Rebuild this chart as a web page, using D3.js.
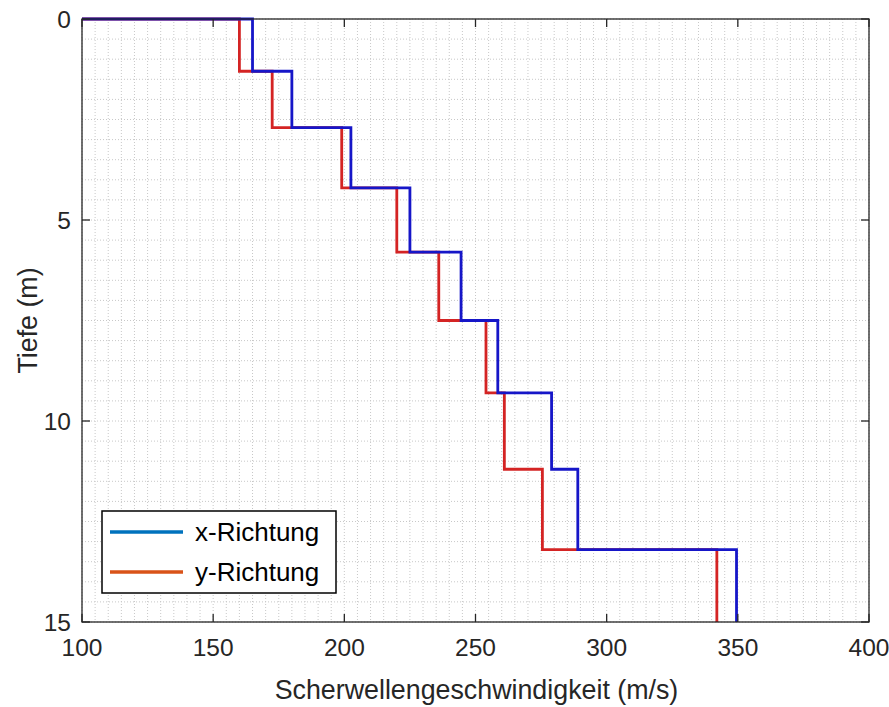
<!DOCTYPE html>
<html>
<head>
<meta charset="utf-8">
<script src="https://cdn.jsdelivr.net/npm/d3@7"></script>
<style>
  html, body { margin: 0; padding: 0; background: #ffffff; }
  svg { display: block; font-family: "Liberation Sans", Arial, sans-serif; }
</style>
</head>
<body>
<svg id="chart" width="889" height="707"></svg>
<script>
// Layer tops (m) of the shear-wave velocity profile
const layerTops = [0, 1.3, 2.7, 4.2, 5.8, 7.5, 9.3, 11.2, 13.2];
const profileBottom = 15;
// Shear-wave velocity per layer (m/s)
const vsX = [165, 180, 202.5, 225, 244.5, 258.5, 279, 289, 349.5];
const vsY = [160, 172.5, 199, 220, 236, 254, 261, 275.5, 342];
const seriesNames = ["x-Richtung", "y-Richtung"];
const xTicks = [100, 150, 200, 250, 300, 350, 400];
const yTicks = [0, 5, 10, 15];

const svg = d3.select("#chart");

const x = d3.scaleLinear().domain([100, 400]).range([82, 869]);
const y = d3.scaleLinear().domain([0, 15]).range([19, 622]);

const axisColor = "#262626";
const tickFont = 24.5, labelFont = 26.8, legendFont = 26;

// minor grid (dotted)
const grid = svg.append("g");
d3.range(100, 400.001, 5).forEach(v => {
  grid.append("line")
    .attr("x1", x(v)).attr("x2", x(v)).attr("y1", y(0)).attr("y2", y(15))
    .attr("stroke", "#c8c8c8").attr("stroke-width", 1).attr("stroke-dasharray", "1,2");
});
d3.range(0, 15.001, 0.5).forEach(v => {
  grid.append("line")
    .attr("x1", x(100)).attr("x2", x(400)).attr("y1", y(v)).attr("y2", y(v))
    .attr("stroke", "#c8c8c8").attr("stroke-width", 1).attr("stroke-dasharray", "1,2");
});

// step profile: horizontal at each layer top, vertical through the layer
function profilePath(vs) {
  let p = `M${x(x.domain()[0])},${y(layerTops[0])}`;
  vs.forEach((v, i) => {
    const bottom = i + 1 < layerTops.length ? layerTops[i + 1] : profileBottom;
    p += `H${x(v)}V${y(bottom)}`;
  });
  return p;
}

svg.append("defs").append("clipPath").attr("id", "plotclip")
  .append("rect").attr("x", x(100)).attr("y", y(0) - 2)
  .attr("width", x(400) - x(100)).attr("height", y(15) - y(0) + 2);

const lines = svg.append("g").attr("clip-path", "url(#plotclip)");
lines.append("path").attr("d", profilePath(vsY))
  .attr("fill", "none").attr("stroke", "#d42424").attr("stroke-width", 2.8);
lines.append("path").attr("d", profilePath(vsX))
  .attr("fill", "none").attr("stroke", "#1616c8").attr("stroke-width", 2.8);

// axes box
const ax = svg.append("g");
ax.append("rect").attr("x", x(100)).attr("y", y(0))
  .attr("width", x(400) - x(100)).attr("height", y(15) - y(0))
  .attr("fill", "none").attr("stroke", axisColor).attr("stroke-width", 1.3);

// ticks point inward on all four sides
const tickLen = 8;
xTicks.forEach(v => {
  ax.append("line").attr("x1", x(v)).attr("x2", x(v)).attr("y1", y(15)).attr("y2", y(15) - tickLen)
    .attr("stroke", axisColor).attr("stroke-width", 1.3);
  ax.append("line").attr("x1", x(v)).attr("x2", x(v)).attr("y1", y(0)).attr("y2", y(0) + tickLen)
    .attr("stroke", axisColor).attr("stroke-width", 1.3);
  ax.append("text").attr("x", x(v)).attr("y", 656).attr("text-anchor", "middle")
    .attr("font-size", tickFont).attr("fill", axisColor).text(v);
});
yTicks.forEach(v => {
  ax.append("line").attr("x1", x(100)).attr("x2", x(100) + tickLen).attr("y1", y(v)).attr("y2", y(v))
    .attr("stroke", axisColor).attr("stroke-width", 1.3);
  ax.append("line").attr("x1", x(400)).attr("x2", x(400) - tickLen).attr("y1", y(v)).attr("y2", y(v))
    .attr("stroke", axisColor).attr("stroke-width", 1.3);
  ax.append("text").attr("x", 71).attr("y", y(v)).attr("dy", "0.36em").attr("text-anchor", "end")
    .attr("font-size", tickFont).attr("fill", axisColor).text(v);
});

// axis titles
svg.append("text").attr("x", (x(100) + x(400)) / 2 + 1).attr("y", 699).attr("text-anchor", "middle")
  .attr("font-size", labelFont).attr("fill", axisColor).text("Scherwellengeschwindigkeit (m/s)");
svg.append("text").attr("transform", `translate(37,${(y(0) + y(15)) / 2}) rotate(-90)`)
  .attr("text-anchor", "middle").attr("font-size", labelFont).attr("fill", axisColor).text("Tiefe (m)");

// legend
const legendColors = ["#0072BD", "#D95319"];
const lg = svg.append("g");
lg.append("rect").attr("x", 102).attr("y", 511).attr("width", 234).attr("height", 82)
  .attr("fill", "#ffffff").attr("stroke", "#000000").attr("stroke-width", 1.5);
seriesNames.forEach((name, i) => {
  const cy = 532 + i * 40;
  lg.append("line").attr("x1", 110).attr("x2", 183).attr("y1", cy).attr("y2", cy)
    .attr("stroke", legendColors[i]).attr("stroke-width", 3.5);
  lg.append("text").attr("x", 195).attr("y", cy).attr("dy", "0.36em")
    .attr("font-size", legendFont).attr("fill", "#000000").text(name);
});
</script>
</body>
</html>
